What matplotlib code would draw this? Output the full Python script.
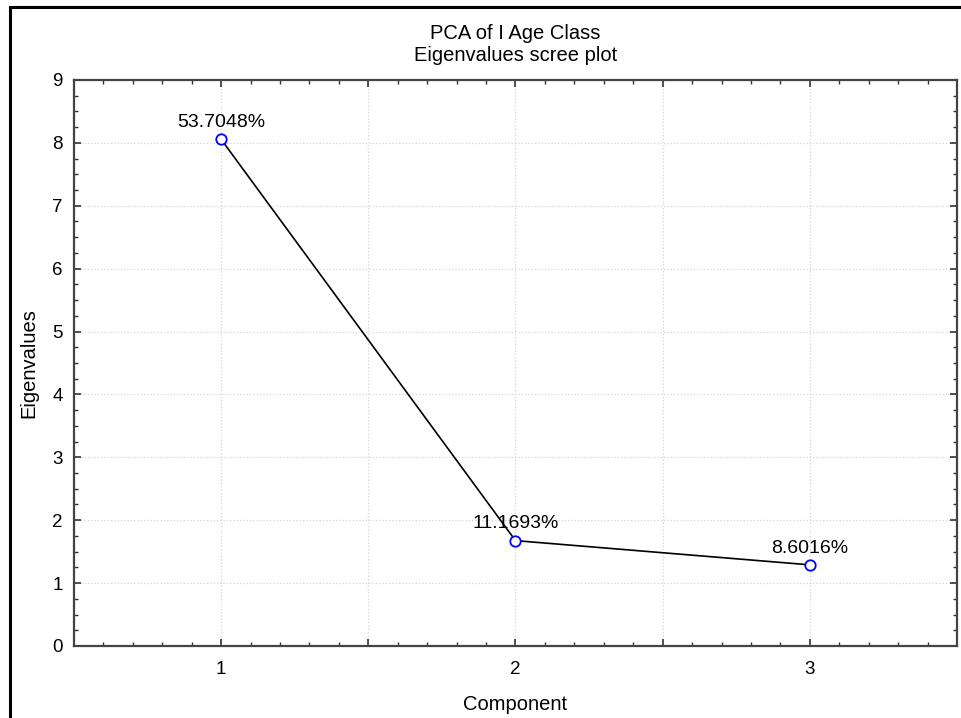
import matplotlib
matplotlib.use('Agg')
import matplotlib.pyplot as plt
from matplotlib.lines import Line2D
from matplotlib.ticker import MultipleLocator

plt.rcParams['font.family'] = ['Liberation Sans', 'DejaVu Sans']

# Данные: собственные значения и доля объяснённой дисперсии
components = [1, 2, 3]
eigenvalues = [8.0557, 1.6754, 1.2902]
percent_labels = ['53.7048%', '11.1693%', '8.6016%']

fig = plt.figure(figsize=(9.61, 7.18), dpi=100)
ax = fig.add_axes([0.077, 0.1003, 0.9188, 0.7883])

ax.plot(components, eigenvalues, '-', color='black', linewidth=1.2, zorder=3)
ax.plot(components, eigenvalues, 'o', markersize=7.5, markerfacecolor='white',
        markeredgecolor='blue', markeredgewidth=1.3, zorder=4)

for x, y, lab in zip(components, eigenvalues, percent_labels):
    ax.annotate(lab, (x, y), xytext=(0, 6), textcoords='offset points',
                ha='center', va='bottom', fontsize=14)

ax.set_xlim(0.5, 3.5)
ax.set_ylim(0, 9)

# Оси: основные деления через 0.5, подписи только у целых
ax.xaxis.set_minor_locator(MultipleLocator(0.1))
ax.set_xticks([0.5, 1, 1.5, 2, 2.5, 3, 3.5])
ax.set_xticklabels(['', '1', '', '2', '', '3', ''])
ax.yaxis.set_major_locator(MultipleLocator(1))
ax.yaxis.set_minor_locator(MultipleLocator(0.25))

ax.tick_params(which='both', direction='in', top=True, right=True,
               labelsize=13.5, color='#333333')
ax.tick_params(which='major', length=5, width=1.2, pad=8)
ax.tick_params(axis='x', which='major', pad=11)
ax.tick_params(which='minor', length=3, width=1.0)

for sp in ax.spines.values():
    sp.set_color('#444444')
    sp.set_linewidth(1.6)

ax.grid(True, which='major', linestyle=':', color='#d4d4d4', linewidth=0.9)

ax.set_xlabel('Component', fontsize=14.5, labelpad=12)
ax.set_ylabel('Eigenvalues', fontsize=14.5, labelpad=10)
ax.set_title('PCA of I Age Class\nEigenvalues scree plot', fontsize=14.5,
             linespacing=1.18, pad=14)

# Рамка вокруг рисунка (верх и левый край)
W, H = 961, 718
fig.add_artist(Line2D([9.5 / W, 1.0], [1 - 6.5 / H, 1 - 6.5 / H],
                      color='black', linewidth=2.2, transform=fig.transFigure))
fig.add_artist(Line2D([9.5 / W, 9.5 / W], [0.0, 1 - 6.5 / H],
                      color='black', linewidth=2.2, transform=fig.transFigure))

plt.savefig('out.png', dpi=100)
